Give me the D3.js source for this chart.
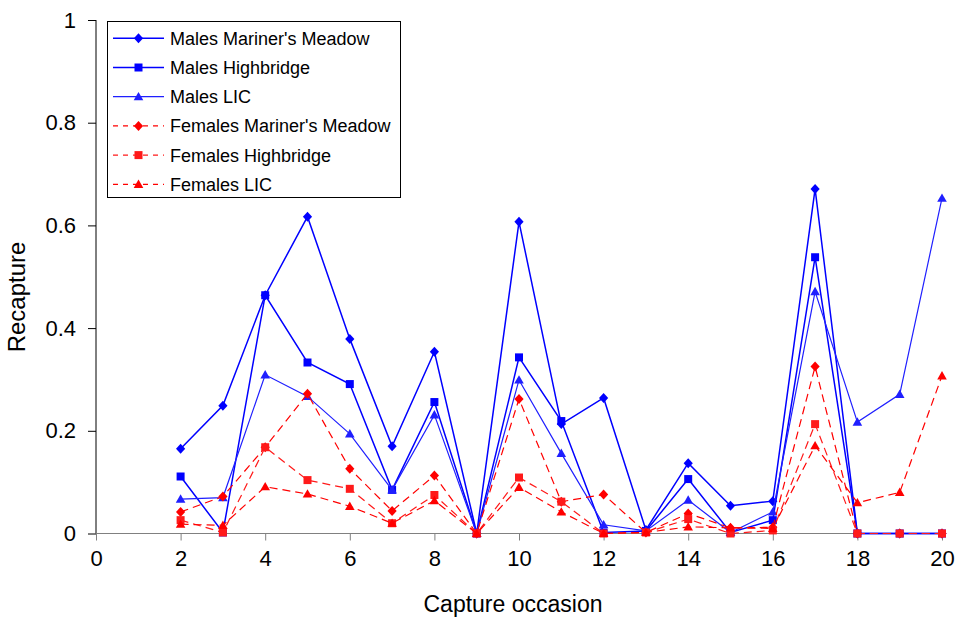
<!DOCTYPE html>
<html>
<head>
<meta charset="utf-8">
<script src="https://cdn.jsdelivr.net/npm/d3@7"></script>
<style>
  html, body { margin: 0; padding: 0; background: #fff; }
  svg { display: block; font-family: "Liberation Sans", Arial, sans-serif; }
</style>
</head>
<body>
<svg id="chart" width="958" height="619"></svg>
<script>
// ---- data ----
const occasions = [2,3,4,5,6,7,8,9,10,11,12,13,14,15,16,17,18,19,20];
const malesMarinersMeadow   = [0.165,0.249,0.464,0.617,0.379,0.170,0.354,0,0.607,0.213,0.264,0.007,0.137,0.054,0.063,0.671,0,0,0];
const malesHighbridge       = [0.111,0.002,0.464,0.333,0.291,0.085,0.256,0,0.343,0.219,0.002,0.005,0.106,0.002,0.026,0.538,0,0,0];
const malesLIC              = [0.067,0.070,0.309,0.267,0.194,0.085,0.231,0,0.299,0.156,0.017,0.005,0.065,0.002,0.042,0.471,0.217,0.271,0.653];
const femalesMarinersMeadow = [0.042,0.072,0.168,0.272,0.126,0.044,0.113,0,0.262,0.062,0.076,0.002,0.039,0.011,0.012,0.325,0,0,0];
const femalesHighbridge     = [0.026,0.002,0.168,0.104,0.087,0.020,0.075,0,0.109,0.062,0,0.002,0.028,0,0.006,0.213,0,0,0];
const femalesLIC            = [0.018,0.016,0.091,0.077,0.053,0.020,0.064,0,0.090,0.042,0,0.002,0.013,0.011,0.010,0.171,0.060,0.080,0.307];
const seriesNames = ["Males Mariner's Meadow","Males Highbridge","Males LIC","Females Mariner's Meadow","Females Highbridge","Females LIC"];
const xTicks = [0,2,4,6,8,10,12,14,16,18,20];
const yTicks = [0,0.2,0.4,0.6,0.8,1];
const xTitle = "Capture occasion";
const yTitle = "Recapture";

const seriesValues = [malesMarinersMeadow, malesHighbridge, malesLIC, femalesMarinersMeadow, femalesHighbridge, femalesLIC];
const styles = [
  {color:"#0000ff", width:1.5, dash:null, shape:"diamond"},
  {color:"#0000ff", width:1.5, dash:null, shape:"square"},
  {color:"#1f1fff", width:1.2, dash:null, shape:"triangle"},
  {color:"#ff0000", width:1.2, dash:"8,5", shape:"diamond"},
  {color:"#ff1a1a", width:1.2, dash:"8,5", shape:"square"},
  {color:"#ff0000", width:1.2, dash:"8,5", shape:"triangle"}
];

const svg = d3.select("#chart");
const x = d3.scaleLinear().domain([0,20]).range([96,942]);
const y = d3.scaleLinear().domain([0,1]).range([533.5,20]);

function markerPath(shape) {
  if (shape === "diamond") return "M0,-5L4.6,0L0,5L-4.6,0Z";
  if (shape === "square") return "M-4,-4H4V4H-4Z";
  return "M0,-4.8L4.8,3.6H-4.8Z";
}

// ---- axes ----
const yAxis = svg.append("g").attr("transform","translate(96,0)")
  .call(d3.axisLeft(y).tickValues(yTicks).tickSize(8).tickPadding(12).tickFormat(d => d3.format("")(d)));
yAxis.select(".domain").attr("stroke","#000").attr("d","M0,20V533.5");
yAxis.selectAll(".tick line").attr("stroke","#000");
yAxis.selectAll(".tick text").attr("font-size",22).attr("fill","#000").attr("font-family","Liberation Sans, Arial, sans-serif");

const xAxis = svg.append("g").attr("transform","translate(0,533.5)")
  .call(d3.axisBottom(x).tickValues(xTicks).tickSize(7).tickPadding(10).tickFormat(d3.format("d")));
xAxis.select(".domain").attr("stroke","#808080").attr("d","M96,0H942");
xAxis.selectAll(".tick line").attr("stroke","#808080");
xAxis.selectAll(".tick text").attr("font-size",22).attr("fill","#000").attr("font-family","Liberation Sans, Arial, sans-serif");

svg.append("text").attr("x",(96+942)/2 - 6).attr("y",612).attr("text-anchor","middle")
  .attr("font-size",23).attr("fill","#000").text(xTitle);
svg.append("text").attr("transform","translate(25,297) rotate(-90)").attr("text-anchor","middle")
  .attr("font-size",24).attr("fill","#000").text(yTitle);

// ---- series ----
const line = d3.line().x((d,i) => x(occasions[i])).y(d => y(d));
seriesValues.forEach((vals, si) => {
  const st = styles[si];
  const g = svg.append("g");
  g.append("path").attr("d", line(vals)).attr("fill","none")
    .attr("stroke", st.color).attr("stroke-width", st.width)
    .attr("stroke-dasharray", st.dash);
  g.selectAll("path.m").data(vals).enter().append("path").attr("class","m")
    .attr("d", markerPath(st.shape))
    .attr("transform", (d,i) => `translate(${x(occasions[i])},${y(d)})`)
    .attr("fill", st.color);
});

// ---- legend ----
const lg = svg.append("g");
lg.append("rect").attr("x",107.5).attr("y",21.5).attr("width",293).attr("height",176)
  .attr("fill","#fff").attr("stroke","#000").attr("stroke-width",1);
seriesNames.forEach((name, i) => {
  const st = styles[i];
  const cy = 38.3 + i*29.2;
  lg.append("line").attr("x1",113).attr("x2",164).attr("y1",cy).attr("y2",cy)
    .attr("stroke", st.color).attr("stroke-width", st.width).attr("stroke-dasharray", st.dash ? "5,5" : null);
  lg.append("path").attr("d", markerPath(st.shape)).attr("transform",`translate(138.5,${cy})`).attr("fill", st.color);
  lg.append("text").attr("x",170).attr("y",cy+6.5).attr("font-size",18).attr("fill","#000").text(name);
});
</script>
</body>
</html>
